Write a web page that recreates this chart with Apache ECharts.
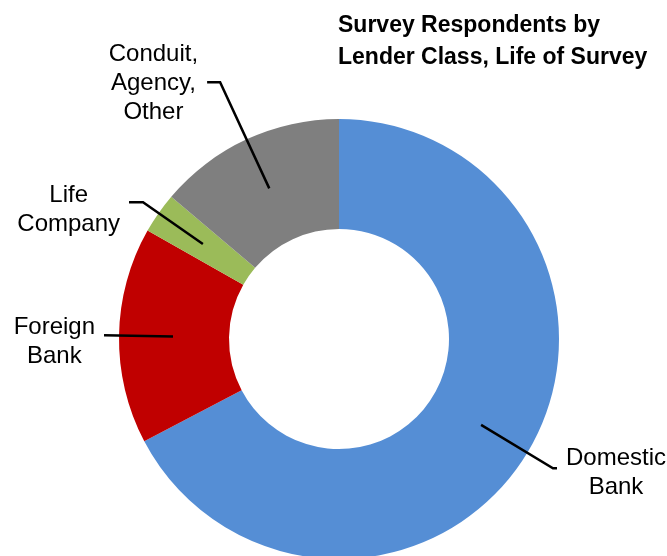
<!DOCTYPE html>
<html>
<head>
<meta charset="utf-8">
<script src="https://cdn.jsdelivr.net/npm/echarts@6/dist/echarts.min.js"></script>
<style>
html,body{margin:0;padding:0;background:#fff;}
#c{width:667px;height:556px;}
</style>
</head>
<body>
<div id="c"></div>
<script>
var categories = ['Domestic Bank', 'Foreign Bank', 'Life Company', 'Conduit, Agency, Other'];
var labelTexts = ['Domestic\nBank', 'Foreign\nBank', 'Life\nCompany', 'Conduit,\nAgency,\nOther'];
var values = [67.3, 15.9, 3.0, 13.8];
var colors = ['#558ED5', '#C00000', '#9BBB59', '#7F7F7F'];
var lineLen = [84, 69, 73, 117];
var lineLen2 = [4, 0, 14, 13];
var labelShift = [10, 14, 16, 2];

var chart = echarts.init(document.getElementById('c'), null, {renderer: 'canvas'});

var ringData = categories.map(function (c, i) {
  return {name: c, value: values[i], itemStyle: {color: colors[i]}};
});
var labelData = categories.map(function (c, i) {
  return {
    name: c, value: values[i],
    label: {
      formatter: '{t|' + labelTexts[i].split('\n').join('}\n{t|') + '}',
      padding: [labelShift[i], 0, 0, 0]
    },
    labelLine: {length: lineLen[i], length2: lineLen2[i]}
  };
});

chart.setOption({
  animation: false,
  backgroundColor: '#fff',
  title: {
    text: 'Survey Respondents by\nLender Class, Life of Survey',
    left: 333, top: 5,
    textStyle: {fontFamily: 'Liberation Sans', fontWeight: 'bold', fontSize: 23, lineHeight: 32, color: '#000'}
  },
  series: [
    {
      type: 'pie',
      center: [339, 339],
      radius: [110, 220],
      startAngle: 90,
      clockwise: true,
      silent: true,
      label: {show: false},
      labelLine: {show: false},
      itemStyle: {borderWidth: 0},
      data: ringData
    },
    {
      type: 'pie',
      center: [339, 339],
      radius: [0, 166],
      startAngle: 90,
      clockwise: true,
      silent: true,
      z: 5,
      avoidLabelOverlap: false,
      itemStyle: {color: 'rgba(0,0,0,0)', borderWidth: 0},
      label: {
        show: true,
        position: 'outside',
        alignTo: 'none',
        distanceToLabelLine: 9,
        color: '#000',
        fontFamily: 'Liberation Sans',
        fontSize: 24,
        lineHeight: 29,
        rich: {
          t: {align: 'center', fontFamily: 'Liberation Sans', fontSize: 24, lineHeight: 29, color: '#000'}
        }
      },
      labelLine: {
        show: true,
        smooth: false,
        minTurnAngle: 0,
        lineStyle: {color: '#000', width: 2.5}
      },
      data: labelData
    }
  ]
});
</script>
</body>
</html>
